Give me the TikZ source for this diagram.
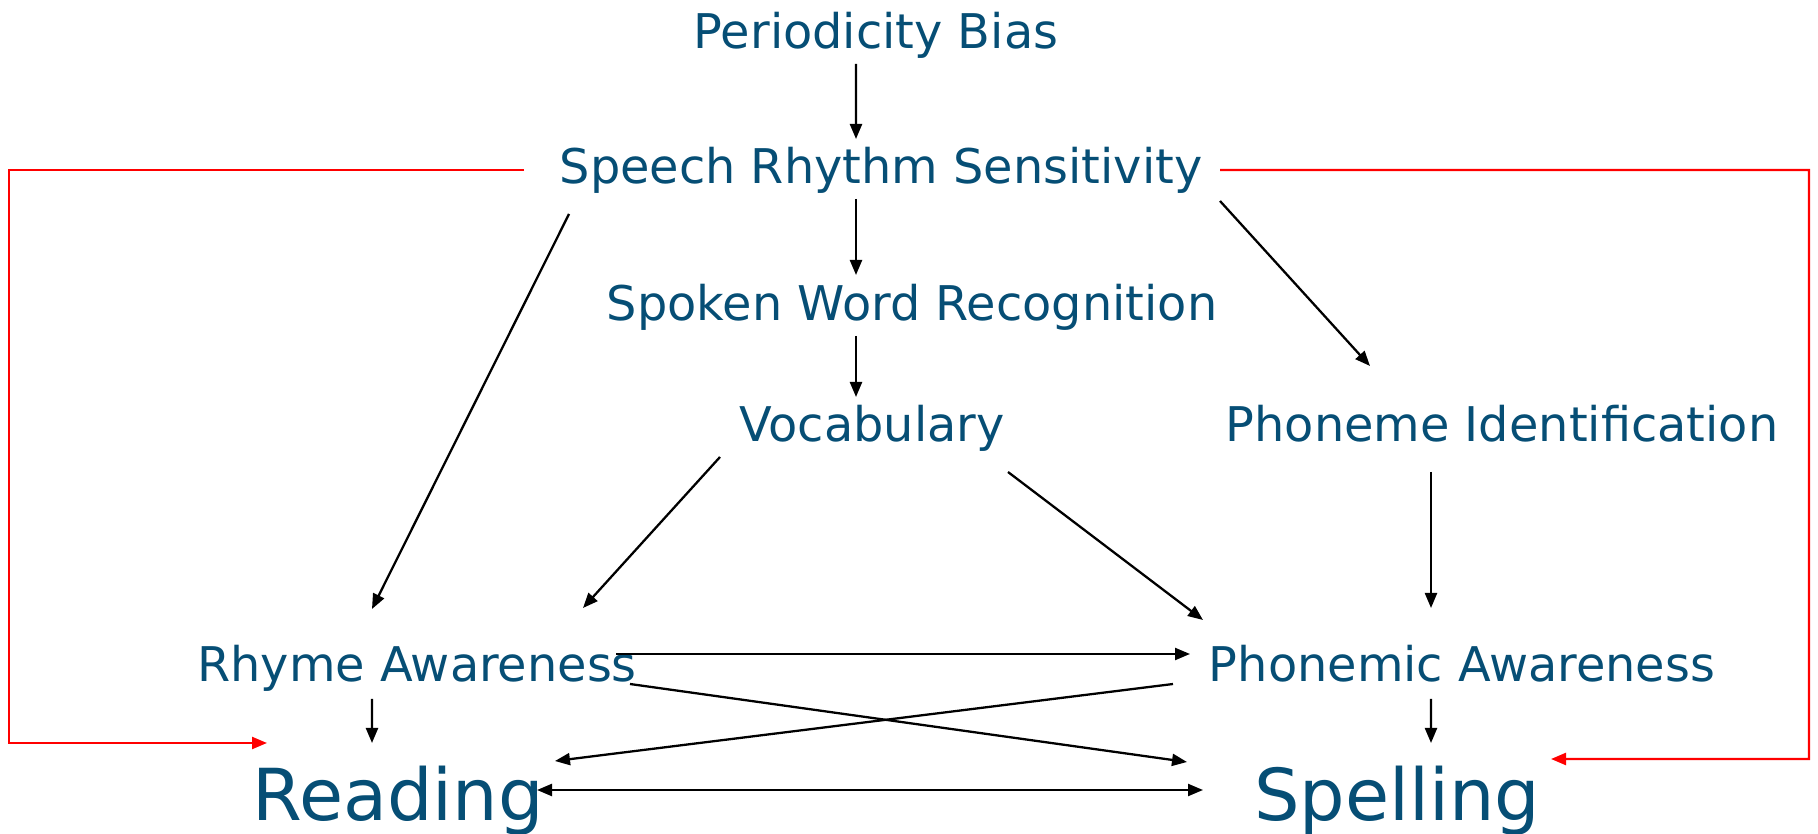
\documentclass[tikz,border=0pt]{standalone}
\usepackage{fontspec}
\setmainfont{DejaVu Sans}
\usepackage{tikz}
\usetikzlibrary{
  arrows.meta,
  positioning,
  calc
}
\usepackage{xcolor}
\definecolor{slateblue}{RGB}{6,78,117}
\definecolor{linkred}{RGB}{255,0,0}

\begin{document}
\begin{tikzpicture}[
  factor/.style={anchor=base, inner sep=0pt, outer sep=0pt,
    text=slateblue, font=\fontsize{13.6}{16}\selectfont},
  outcome/.style={factor, font=\fontsize{20.4}{24}\selectfont},
  link/.style={line width=0.65pt, -{Triangle[length=0.15cm,width=0.12cm]}},
  twoway/.style={link, {Triangle[length=0.15cm,width=0.12cm]}-{Triangle[length=0.15cm,width=0.12cm]}},
  redlink/.style={link, draw=linkred}
]
  \useasboundingbox (0,0) rectangle (18.18,8.34);

  % Factors
  \node[factor] (PB)  at (8.76,7.85) {Periodicity Bias};
  \node[factor] (SRS) at (8.81,6.50) {Speech Rhythm Sensitivity};
  \node[factor] (SWR) at (9.12,5.13) {Spoken Word Recognition};
  \node[factor] (VOC) at (8.72,3.92) {Vocabulary};
  \node[factor] (PID) at (15.02,3.92) {Phoneme Identification};
  \node[factor] (RA)  at (4.17,1.52) {Rhyme Awareness};
  \node[factor] (PA)  at (14.62,1.52) {Phonemic Awareness};

  % Outcomes
  \node[outcome] (RD) at (3.98,0.13) {Reading};
  \node[outcome] (SP) at (13.97,0.13) {Spelling};

  % Central chain
  \draw[link] ([shift={(-0.20,-0.15)}]PB.base)  -- ([shift={(-0.25,0.45)}]SRS.base);
  \draw[link] ([shift={(-0.25,-0.15)}]SRS.base) -- ([shift={(-0.56,0.46)}]SWR.base);
  \draw[link] ([shift={(-0.56,-0.15)}]SWR.base) -- ([shift={(-0.16,0.45)}]VOC.base);

  % Diagonals
  \draw[link] ([shift={(3.39,-0.17)}]SRS.base)  -- ([shift={(-1.32,0.76)}]PID.base);
  \draw[link] ([shift={(-3.12,-0.30)}]SRS.base) -- ([shift={(-0.45,0.73)}]RA.base);
  \draw[link] ([shift={(-1.52,-0.15)}]VOC.base) -- ([shift={(1.66,0.74)}]RA.base);
  \draw[link] ([shift={(1.36,-0.30)}]VOC.base)  -- ([shift={(-2.59,0.62)}]PA.base);
  \draw[link] ([shift={(-0.71,-0.30)}]PID.base) -- ([shift={(-0.31,0.74)}]PA.base);

  % Awareness to outcomes
  \draw[link] ([shift={(1.99,0.28)}]RA.base)   -- ([shift={(-2.72,0.28)}]PA.base);
  \draw[link] ([shift={(2.13,-0.02)}]RA.base)  -- ([shift={(-2.10,0.59)}]SP.base);
  \draw[link] ([shift={(-2.89,-0.02)}]PA.base) -- ([shift={(1.57,0.60)}]RD.base);
  \draw[link] ([shift={(-0.45,-0.17)}]RA.base) -- ([shift={(-0.26,0.78)}]RD.base);
  \draw[link] ([shift={(-0.31,-0.17)}]PA.base) -- ([shift={(0.34,0.78)}]SP.base);
  \draw[twoway] ([shift={(1.39,0.31)}]RD.base) -- ([shift={(-1.94,0.31)}]SP.base);

  % Direct rhythm routes
  \coordinate (lbend) at (0.09,0.91);
  \coordinate (rbend) at (18.09,0.75);
  \draw[redlink] ([shift={(-3.57,0.14)}]SRS.base) -| (lbend)
    -- ([shift={(-1.31,0.78)}]RD.base);
  \draw[redlink] ([shift={(3.39,0.14)}]SRS.base) -| (rbend)
    -- ([shift={(1.54,0.62)}]SP.base);
\end{tikzpicture}
\end{document}
